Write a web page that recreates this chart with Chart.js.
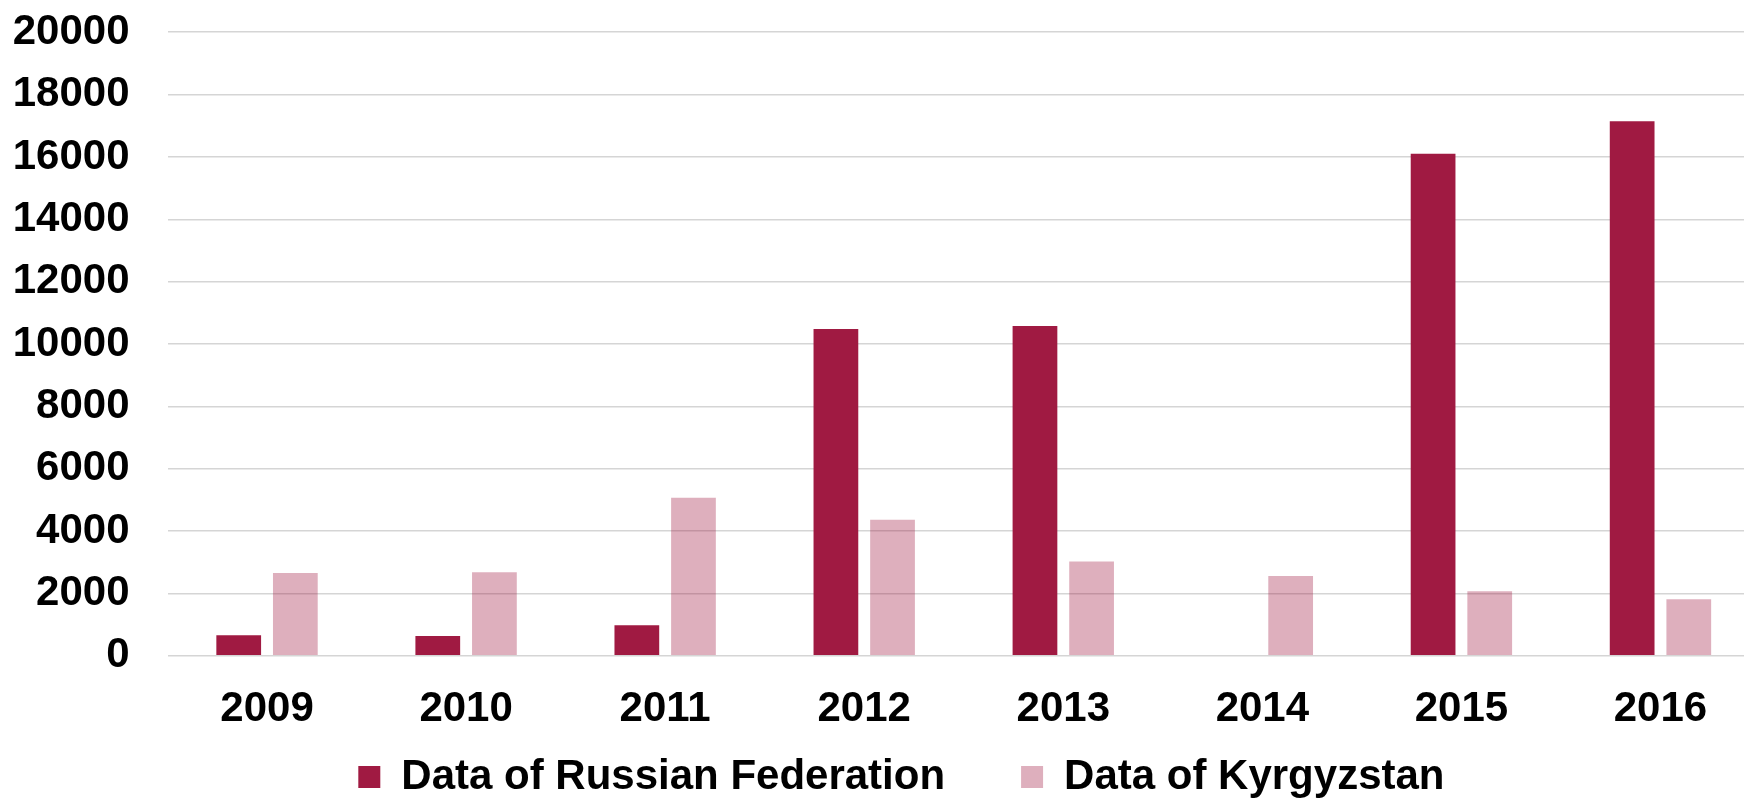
<!DOCTYPE html>
<html>
<head>
<meta charset="utf-8">
<script src="https://cdn.jsdelivr.net/npm/chart.js@4.4.1/dist/chart.umd.min.js"></script>
<style>
html,body{margin:0;padding:0;overflow:hidden;background:#ffffff;}
#wrap{position:relative;width:1760px;height:800px;}
</style>
</head>
<body>
<div id="wrap"><canvas id="c"></canvas></div>
<script>
const categories = ['2009', '2010', '2011', '2012', '2013', '2014', '2015', '2016'];
const russiaValues = [660, 630, 980, 10480, 10580, null, 16100, 17150];
const kyrgyzstanValues = [2650, 2680, 5070, 4360, 3020, 2560, 2070, 1810];
const seriesNames = ['Data of Russian Federation', 'Data of Kyrgyzstan'];
const yMin = 0, yMax = 20000, yStep = 2000;

const FONT = '"Liberation Sans", Arial, sans-serif';

const legendShift = {
  id: 'legendShift',
  afterLayout(chart) {
    const lg = chart.legend;
    if (lg) { lg.left += 21.4; lg.right += 21.4; }
  }
};

new Chart(document.getElementById('c'), {
  type: 'bar',
  data: {
    labels: categories,
    datasets: [
      {
        label: seriesNames[0],
        data: russiaValues,
        backgroundColor: '#A01A42',
        borderWidth: 0,
        categoryPercentage: 0.569,
        barPercentage: 0.79
      },
      {
        label: seriesNames[1],
        data: kyrgyzstanValues,
        backgroundColor: 'rgba(160,26,66,0.35)',
        borderWidth: 0,
        categoryPercentage: 0.569,
        barPercentage: 0.79
      }
    ]
  },
  options: {
    responsive: true,
    maintainAspectRatio: false,
    animation: false,
    layout: { padding: { top: 32.3, bottom: -8, left: 0, right: 0 } },
    plugins: {
      tooltip: { enabled: false },
      legend: {
        position: 'bottom',
        labels: {
          boxWidth: 22,
          boxHeight: 22,
          padding: 76,
          color: '#000000',
          font: { family: FONT, size: 42, weight: 'bold' }
        }
      }
    },
    scales: {
      x: {
        grid: { display: false, drawTicks: false },
        border: { display: false },
        ticks: {
          color: '#000000',
          padding: 28.5,
          font: { family: FONT, size: 42, weight: 'bold' }
        },
        afterFit(scale) {
          scale.height = 24.3;
          scale._computeLabelArea = function () { return undefined; };
        }
      },
      y: {
        min: yMin,
        max: yMax,
        grid: { color: '#d5d5d5', lineWidth: 1.6, drawTicks: true, tickLength: 38, tickColor: 'rgba(0,0,0,0)' },
        border: { display: false },
        ticks: {
          stepSize: yStep,
          color: '#000000',
          padding: 0,
          font: { family: FONT, size: 42, weight: 'bold' },
          callback: (v) => String(v)
        },
        afterFit(scale) { scale.width = 167.5; }
      }
    }
  },
  plugins: [legendShift]
});
</script>
</body>
</html>
